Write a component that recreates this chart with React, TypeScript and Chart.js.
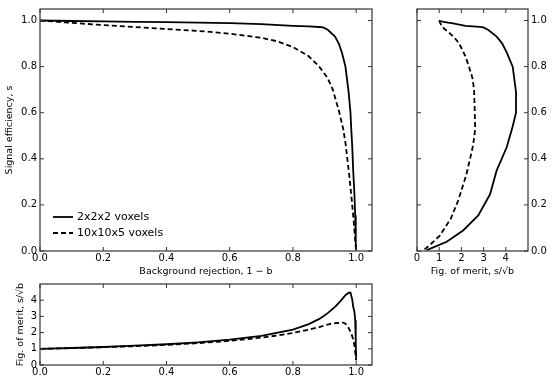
import React, { useEffect, useRef } from 'react';
import { Chart, registerables } from 'chart.js';

Chart.register(...registerables);

// ---------- data ----------
const seriesLabels = ['2x2x2 voxels', '10x10x5 voxels'];

// 2x2x2 voxels
const rejSolid = [0, 0.1, 0.2, 0.3, 0.4, 0.5, 0.6, 0.7, 0.8, 0.85, 0.882, 0.895, 0.91, 0.933, 0.945, 0.955, 0.966, 0.976, 0.982, 0.984, 0.9876, 0.9905, 0.9944, 0.9969, 0.9981, 0.9991, 0.9999];
const effSolid = [1.0, 0.998, 0.996, 0.994, 0.993, 0.991, 0.989, 0.984, 0.977, 0.975, 0.972, 0.970, 0.960, 0.930, 0.90, 0.86, 0.80, 0.69, 0.60, 0.54, 0.45, 0.35, 0.246, 0.154, 0.09, 0.04, 0.004];
const fomSolid = [1.0, 1.05, 1.11, 1.19, 1.28, 1.40, 1.56, 1.80, 2.18, 2.52, 2.83, 2.99, 3.20, 3.59, 3.84, 4.05, 4.31, 4.46, 4.46, 4.31, 4.04, 3.59, 3.29, 2.76, 2.09, 1.34, 0.44];

// 10x10x5 voxels
const rejDashed = [0, 0.1, 0.2, 0.3, 0.4, 0.5, 0.6, 0.7, 0.75, 0.8, 0.85, 0.883, 0.91, 0.926, 0.945, 0.959, 0.967, 0.972, 0.978, 0.986, 0.9915, 0.9957, 0.998, 0.99995];
const effDashed = [1.0, 0.990, 0.980, 0.972, 0.963, 0.955, 0.943, 0.925, 0.91, 0.885, 0.845, 0.80, 0.75, 0.70, 0.61, 0.53, 0.46, 0.40, 0.33, 0.22, 0.14, 0.068, 0.026, 0.002];
const fomDashed = [1.0, 1.04, 1.10, 1.16, 1.24, 1.35, 1.49, 1.69, 1.82, 1.98, 2.18, 2.34, 2.50, 2.57, 2.60, 2.62, 2.53, 2.39, 2.22, 1.86, 1.52, 1.04, 0.58, 0.28];

const rejTicks = [0, 0.2, 0.4, 0.6, 0.8, 1.0];
const effTicks = [0, 0.2, 0.4, 0.6, 0.8, 1.0];
const fomTicks = [0, 1, 2, 3, 4];

// ---------- styling ----------
const FONT = '"DejaVu Sans", sans-serif';
const W = 554;
const H = 385;
const tickFont = { family: FONT, size: 10 };
const titleFont = { family: FONT, size: 9.5 };

const pts = (xs: number[], ys: number[]) => xs.map((x, i) => ({ x, y: ys[i] }));

function makeDatasets(solidX: number[], solidY: number[], dashX: number[], dashY: number[]) {
  return [
    {
      label: seriesLabels[0],
      data: pts(solidX, solidY),
      showLine: true,
      borderColor: '#000',
      borderWidth: 1.8,
      pointRadius: 0,
      fill: false,
      tension: 0,
    },
    {
      label: seriesLabels[1],
      data: pts(dashX, dashY),
      showLine: true,
      borderColor: '#000',
      borderWidth: 1.8,
      borderDash: [5, 3],
      pointRadius: 0,
      fill: false,
      tension: 0,
    },
  ];
}

function xAxis(min: number, max: number, ticks: number[], digits: number, height: number, title?: string) {
  return {
    type: 'linear',
    position: 'bottom',
    min,
    max,
    afterBuildTicks: (s: any) => {
      s.ticks = ticks.map((v) => ({ value: v }));
    },
    afterFit: (s: any) => {
      s.height = height;
    },
    grid: { display: false, drawTicks: false },
    border: { display: false },
    ticks: {
      padding: 1,
      color: '#000',
      font: tickFont,
      maxRotation: 0,
      autoSkip: false,
      callback: (v: any) => Number(v).toFixed(digits),
    },
    title: title
      ? { display: true, text: title, color: '#000', font: titleFont, padding: { top: 0, bottom: 4 } }
      : { display: false },
  };
}

function yAxis(
  min: number,
  max: number,
  ticks: number[],
  digits: number,
  width: number,
  position: string,
  title?: string,
  titlePad = 4
) {
  return {
    type: 'linear',
    position,
    min,
    max,
    afterBuildTicks: (s: any) => {
      s.ticks = ticks.map((v) => ({ value: v }));
    },
    afterFit: (s: any) => {
      s.width = width;
    },
    grid: { display: false, drawTicks: false },
    border: { display: false },
    ticks: {
      padding: 3,
      color: '#000',
      font: tickFont,
      autoSkip: false,
      callback: (v: any) => Number(v).toFixed(digits),
    },
    title: title
      ? { display: true, text: title, color: '#000', font: titleFont, padding: { top: titlePad, bottom: 0 } }
      : { display: false },
  };
}

// frame with inward ticks on all four sides (matplotlib classic look)
const framePlugin = {
  id: 'mplFrame',
  afterDraw(chart: any) {
    const { ctx, chartArea: a, scales } = chart;
    const xs = scales.x;
    const ys = scales.y;
    const L = 4;
    ctx.save();
    ctx.strokeStyle = '#333';
    ctx.lineWidth = 1;
    ctx.setLineDash([]);
    ctx.beginPath();
    for (const t of xs.ticks) {
      const px = xs.getPixelForValue(t.value);
      ctx.moveTo(px, a.bottom);
      ctx.lineTo(px, a.bottom - L);
      ctx.moveTo(px, a.top);
      ctx.lineTo(px, a.top + L);
    }
    for (const t of ys.ticks) {
      const py = ys.getPixelForValue(t.value);
      ctx.moveTo(a.left, py);
      ctx.lineTo(a.left + L, py);
      ctx.moveTo(a.right, py);
      ctx.lineTo(a.right - L, py);
    }
    ctx.stroke();
    ctx.lineWidth = 1.2;
    ctx.strokeRect(a.left, a.top, a.right - a.left, a.bottom - a.top);
    ctx.restore();
  },
};

// legend drawn inside the main axes, lower left, no frame
const legendPlugin = {
  id: 'mplLegend',
  afterDatasetsDraw(chart: any) {
    const { ctx, chartArea: a } = chart;
    ctx.save();
    chart.data.datasets.forEach((ds: any, i: number) => {
      const y = a.bottom - 34 + i * 16;
      const x0 = a.left + 13;
      ctx.beginPath();
      ctx.setLineDash(ds.borderDash || []);
      ctx.lineWidth = ds.borderWidth;
      ctx.strokeStyle = ds.borderColor;
      ctx.moveTo(x0, y);
      ctx.lineTo(x0 + 20, y);
      ctx.stroke();
      ctx.setLineDash([]);
      ctx.fillStyle = '#000';
      ctx.font = `11px ${FONT}`;
      ctx.textBaseline = 'middle';
      ctx.textAlign = 'left';
      ctx.fillText(ds.label, x0 + 24, y);
    });
    ctx.restore();
  },
};

const basePlugins = { legend: { display: false }, tooltip: { enabled: false } };

export default function App() {
  const mainRef = useRef<HTMLCanvasElement>(null);
  const rightRef = useRef<HTMLCanvasElement>(null);
  const bottomRef = useRef<HTMLCanvasElement>(null);

  useEffect(() => {
    const charts: Chart[] = [];

    charts.push(
      new Chart(mainRef.current as HTMLCanvasElement, {
        type: 'scatter',
        data: { datasets: makeDatasets(rejSolid, effSolid, rejDashed, effDashed) as any },
        options: {
          animation: false,
          responsive: false,
          devicePixelRatio: 1,
          layout: { padding: { left: 0, top: 5, right: W - 372, bottom: H - 281 } },
          plugins: basePlugins as any,
          scales: {
            x: xAxis(0, 1.05, rejTicks, 1, 30, 'Background rejection, 1 − b') as any,
            y: yAxis(0, 1.05, effTicks, 1, 40, 'left', 'Signal efficiency, s', 4) as any,
          },
        },
        plugins: [framePlugin, legendPlugin],
      })
    );

    charts.push(
      new Chart(rightRef.current as HTMLCanvasElement, {
        type: 'scatter',
        data: { datasets: makeDatasets(fomSolid, effSolid, fomDashed, effDashed) as any },
        options: {
          animation: false,
          responsive: false,
          devicePixelRatio: 1,
          layout: { padding: { left: 417, top: 5, right: 0, bottom: H - 281 } },
          plugins: basePlugins as any,
          scales: {
            x: xAxis(0, 5, fomTicks, 0, 30, 'Fig. of merit, s/√b') as any,
            y: yAxis(0, 1.05, effTicks, 1, W - 528, 'right') as any,
          },
        },
        plugins: [framePlugin],
      })
    );

    charts.push(
      new Chart(bottomRef.current as HTMLCanvasElement, {
        type: 'scatter',
        data: { datasets: makeDatasets(rejSolid, fomSolid, rejDashed, fomDashed) as any },
        options: {
          animation: false,
          responsive: false,
          devicePixelRatio: 1,
          layout: { padding: { left: 0, top: 284, right: W - 372, bottom: 0 } },
          plugins: basePlugins as any,
          scales: {
            x: xAxis(0, 1.05, rejTicks, 1, H - 365) as any,
            y: yAxis(0, 5, fomTicks, 0, 40, 'left', 'Fig. of merit, s/√b', 15) as any,
          },
        },
        plugins: [framePlugin],
      })
    );

    return () => charts.forEach((c) => c.destroy());
  }, []);

  const cv: React.CSSProperties = { position: 'absolute', left: 0, top: 0, width: W, height: H };

  return (
    <div style={{ position: 'absolute', left: 0, top: 0, width: W, height: H, background: '#fff' }}>
      <canvas ref={mainRef} width={W} height={H} style={cv} />
      <canvas ref={rightRef} width={W} height={H} style={cv} />
      <canvas ref={bottomRef} width={W} height={H} style={cv} />
    </div>
  );
}
